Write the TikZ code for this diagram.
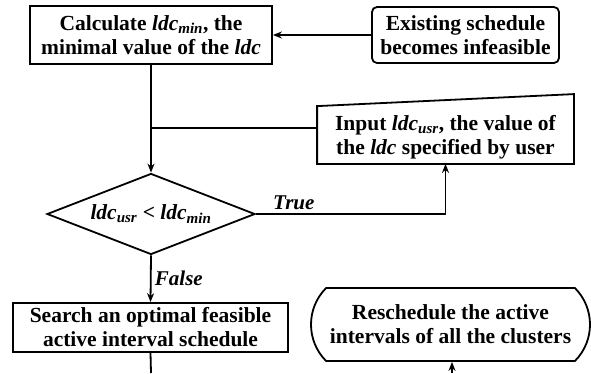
\documentclass[tikz,border=0pt]{standalone}
\usepackage{fontspec}
\setmainfont{Liberation Serif}
\usetikzlibrary{arrows.meta,shapes,calc,positioning}
\newcommand{\ldc}[1]{\textit{ldc}\textsubscript{\textit{#1}}}
\tikzset{
	box/.style={draw,line width=1.8pt,align=center,inner sep=0pt,font=\fontsize{21.5}{24}\selectfont\bfseries},
	line/.style={line width=1.8pt},
	flow/.style={line width=1.8pt,-{Stealth[length=9pt,width=7pt]}},
	lbl/.style={font=\fontsize{21}{24}\selectfont\bfseries\itshape},
}
\begin{document}
\begin{tikzpicture}[x=1pt,y=-1pt]
	\useasboundingbox (0,0) rectangle (591,373);
	\node (calc) at (151,35) [box,minimum width=242pt,minimum height=58pt] {Calculate \ldc{min}, the\\minimal value of the \textit{ldc}};
	\node (exist) at (465.5,35) [box,rounded corners=5pt,minimum width=187pt,minimum height=56pt] {Existing schedule\\becomes infeasible};
	\node (inp) at (445.5,137) [box,draw=none,minimum width=255pt,minimum height=52pt] {Input \ldc{usr}, the value of\\the \textit{ldc} specified by user};
	\draw[line] (inp.south west) -- (inp.south east) -- ($(inp.north east)+(0,-16)$) -- ($(inp.north west)+(0,-4)$) -- cycle;
	\node (test) at (151,214) [box,diamond,shape aspect=2.57,minimum width=208pt,minimum height=81pt] {\ldc{usr} < \ldc{min}};
	\node (search) at (150.5,327.5) [box,minimum width=275pt,minimum height=49pt] {Search an optimal feasible\\active interval schedule};
	\node (resched) at (450.5,324.5) [box,rounded rectangle,rounded rectangle arc length=90,minimum width=279pt,minimum height=73pt] {Reschedule the active\\intervals of all the clusters};
	
	\coordinate (join) at (151,128);
	\coordinate (out) at (151,373);
	\coordinate (in) at (452,373);
	
	\draw[flow] (exist.west) -- (calc.east);
	\draw[flow] (calc.south) -- (test.north);
	\draw[line] (join) -- (join -| inp.west);
	\draw[flow] (test.east) -| node[lbl,pos=0.1,above] {True} (inp.south);
	\draw[flow] (test.south) -- node[lbl,right] {False} (search.north);
	\draw[line] (search.south) -- (out);
	\draw[flow] (in) -- (in |- resched.south);
\end{tikzpicture}
\end{document}
